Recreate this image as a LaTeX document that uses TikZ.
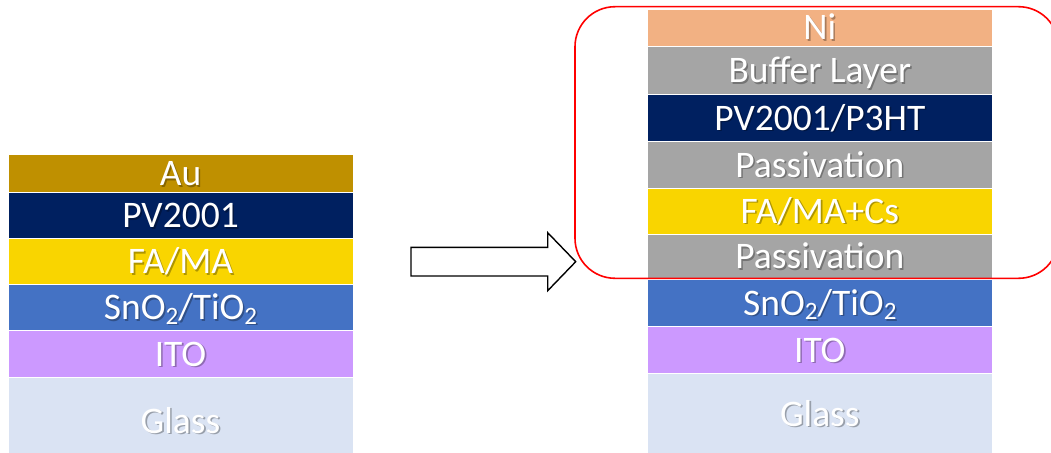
\documentclass[tikz,border=0pt]{standalone}
\usepackage{fontspec}
\setmainfont{Carlito}

% layer colours
\definecolor{gold}{HTML}{BF9000}
\definecolor{navy}{HTML}{002060}
\definecolor{perov}{HTML}{F9D500}
\definecolor{etl}{HTML}{4472C4}
\definecolor{ito}{HTML}{CC99FF}
\definecolor{glass}{HTML}{DAE3F3}
\definecolor{nickel}{HTML}{F2B183}
\definecolor{greylayer}{HTML}{A5A5A5}

% lowered subscript two in the text font
\newcommand\subtwo{\raisebox{-4.5pt}{\fontsize{25}{25}\selectfont 2}}
% white label with a soft offset shadow in a darker tone of the layer
\newcommand\shadowed[2]{\makebox[0pt][l]{\hspace{1.6pt}\raisebox{-1.6pt}{\color{#1!70!black}#2}}#2}

\tikzset{
  layer/.style={rectangle, fill=#1, draw=white, line width=0.6pt,
    minimum width=345pt, inner sep=0pt, outer sep=0pt, anchor=north west,
    text=white, font=\fontsize{37.5}{40}\selectfont,
    text height=24pt, text depth=0pt},
  hollowarrow/.style={draw=black, line width=1.4pt, fill=white, line join=miter},
  highlight/.style={draw=red, line width=1.6pt, rounded corners=40pt}
}

\begin{document}
\begin{tikzpicture}[x=1pt,y=-1pt]
\useasboundingbox (0,0) rectangle (1051,452);

% original stack
\node[layer=gold,     minimum height=38pt]   (au)    at (8,154.7) {\shadowed{gold}{Au}};
\node[layer=navy,     minimum height=46pt]   (pvl)   at (8,192.7) {\shadowed{navy}{PV2001}};
\node[layer=perov,    minimum height=45.6pt] (fama)  at (8,238.7) {\shadowed{perov}{FA/MA}};
\node[layer=etl,      minimum height=46.4pt] (etll)  at (8,284.3) {\shadowed{etl}{SnO\subtwo/TiO\subtwo}};
\node[layer=ito,      minimum height=46.6pt] (itol)  at (8,330.7) {\shadowed{ito}{ITO}};
\node[layer=glass,    minimum height=87.7pt] (glassl) at (8,377.3) {\shadowed{glass}{Glass}};

% modified stack
\node[layer=nickel,   minimum height=37.4pt] (ni)     at (647.3,9.3)   {\shadowed{nickel}{Ni}};
\node[layer=greylayer,minimum height=47.6pt] (buffer) at (647.3,46.7)  {\shadowed{greylayer}{Buffer Layer}};
\node[layer=navy,     minimum height=47.4pt] (pvr)    at (647.3,94.3)  {\shadowed{navy}{PV2001/P3HT}};
\node[layer=greylayer,minimum height=46.6pt] (passt)  at (647.3,141.7) {\shadowed{greylayer}{Passivation}};
\node[layer=perov,    minimum height=45.7pt] (famacs) at (647.3,188.3) {\shadowed{perov}{FA/MA+Cs}};
\node[layer=greylayer,minimum height=45.3pt] (passb)  at (647.3,234)   {\shadowed{greylayer}{Passivation}};
\node[layer=etl,      minimum height=47.4pt] (etlr)   at (647.3,279.3) {\shadowed{etl}{SnO\subtwo/TiO\subtwo}};
\node[layer=ito,      minimum height=47pt]   (itor)   at (647.3,326.7) {\shadowed{ito}{ITO}};
\node[layer=glass,    minimum height=81.3pt] (glassr) at (647.3,373.7) {\shadowed{glass}{Glass}};

% block arrow between the two stacks
\coordinate (tail) at (411,261.7);
\coordinate (tip)  at (575.7,261.7);
\draw[hollowarrow] (411,247.4) -- (547.7,247.4) -- (547.7,232.7) -- (tip)
  -- (547.7,290.7) -- (547.7,276) -- (411,276) -- cycle;

% frame round the new upper layers
\draw[highlight] (575,6.7) rectangle (1058.6,278.3);
\end{tikzpicture}
\end{document}
